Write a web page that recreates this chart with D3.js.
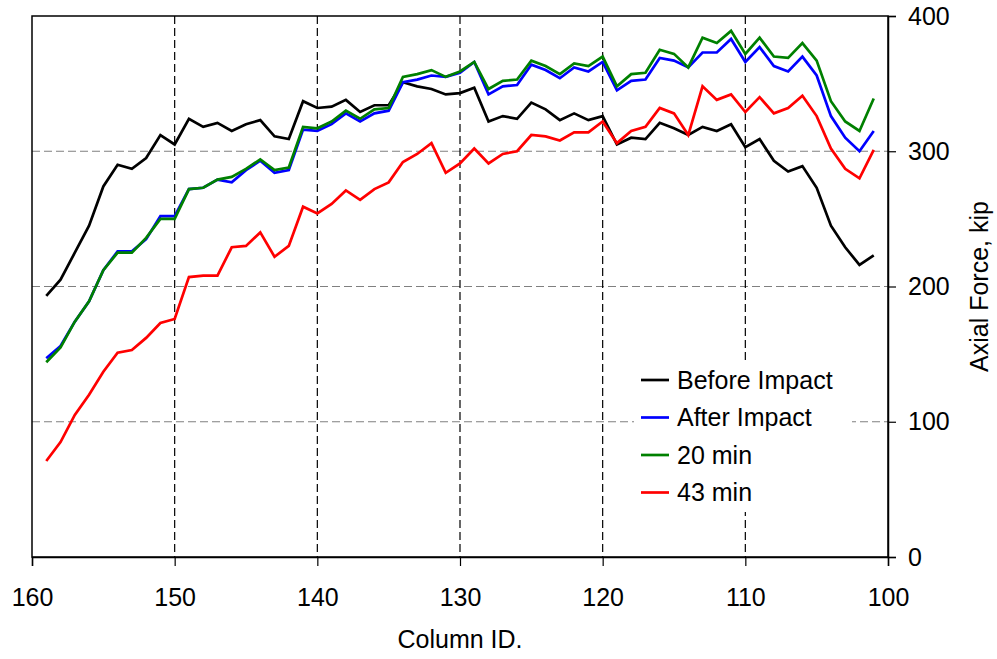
<!DOCTYPE html>
<html><head><meta charset="utf-8">
<script src="https://cdn.jsdelivr.net/npm/d3@7"></script>
<style>body{margin:0;background:#fff}svg{display:block;font-family:"Liberation Sans",Arial,sans-serif}</style>
</head><body><svg id="c" width="997" height="659"></svg>
<script>
const columnIds = [159,158,157,156,155,154,153,152,151,150,149,148,147,146,145,144,143,142,141,140,139,138,137,136,135,134,133,132,131,130,129,128,127,126,125,124,123,122,121,120,119,118,117,116,115,114,113,112,111,110,109,108,107,106,105,104,103,102,101];
const beforeImpact = [193,205,225,245,274,290,287,295,312,305,324,318,321,315,320,323,311,309,337,332,333,338,329,334,334,351,348,346,342,343,347,322,326,324,336,331,323,328,323,326,305,310,309,321,317,312,318,315,320,303,309,293,285,289,273,245,229,216,223];
const afterImpact = [147,156,174,189,212,226,226,235,252,252,272,273,279,277,286,293,284,286,316,315,320,328,322,328,330,351,353,356,355,358,366,342,348,349,364,360,354,362,359,366,345,352,353,369,367,362,373,373,383,366,377,363,359,370,356,326,310,300,315];
const min20 = [144,155,174,189,212,225,225,236,250,250,272,273,279,281,287,294,286,288,318,317,322,330,324,331,332,355,357,360,355,359,366,346,352,353,367,363,357,365,363,370,348,357,358,375,372,362,384,380,389,372,384,370,369,380,367,337,322,315,339];
const min43 = [71,85,105,120,137,151,153,162,173,176,207,208,208,229,230,240,222,230,259,254,261,271,264,272,277,292,298,306,284,291,302,291,298,300,312,311,308,314,314,322,306,315,318,332,328,312,348,338,342,329,340,328,332,341,326,302,287,280,301];
const seriesNames = ["Before Impact","After Impact","20 min","43 min"];
const seriesColors = ["#000000","#0000ff","#008000","#ff0000"];
const xTicks = [160,150,140,130,120,110,100];
const yTicks = [0,100,200,300,400];

const svg = d3.select("#c");
const L=32,R=888,T=16,B=557;
const x = d3.scaleLinear().domain([160,100]).range([L,R]);
const y = d3.scaleLinear().domain([0,400]).range([B,T]);
const fs = 25;

// grid
svg.append("g").selectAll("line").data(yTicks.filter(v=>v>0&&v<400)).join("line")
  .attr("x1",L).attr("x2",R).attr("y1",d=>y(d)).attr("y2",d=>y(d))
  .attr("stroke","#808080").attr("stroke-width",1.2).attr("stroke-dasharray","8,4");
svg.append("g").selectAll("line").data(xTicks.filter(v=>v<160&&v>100)).join("line")
  .attr("y1",T).attr("y2",B).attr("x1",d=>x(d)).attr("x2",d=>x(d))
  .attr("stroke","#000").attr("stroke-width",1.2).attr("stroke-dasharray","8,4");

// frame
svg.append("rect").attr("x",L).attr("y",T).attr("width",R-L).attr("height",B-T)
  .attr("fill","none").attr("stroke","#000").attr("stroke-width",1.5);

// axes
const xa = svg.append("g").attr("transform",`translate(0,${B})`)
  .call(d3.axisBottom(x).tickValues(xTicks).tickSize(9).tickPadding(22).tickFormat(d3.format("d")));
const ya = svg.append("g").attr("transform",`translate(${R},0)`)
  .call(d3.axisRight(y).tickValues(yTicks).tickSize(8).tickPadding(12).tickFormat(d3.format("d")));
[xa,ya].forEach(g=>{
  g.select(".domain").attr("stroke","#000").attr("stroke-width",1.5);
  g.selectAll(".tick line").attr("stroke","#000").attr("stroke-width",1.2);
  g.selectAll("text").attr("font-size",fs).attr("fill","#000").attr("font-family","Liberation Sans, Arial, sans-serif");
});

// lines
const allSeries = [beforeImpact, afterImpact, min20, min43];
const line = d3.line().x((d,i)=>x(columnIds[i])).y(d=>y(d));
allSeries.forEach((s,k)=>{
  svg.append("path").datum(s).attr("d",line).attr("fill","none")
    .attr("stroke",seriesColors[k]).attr("stroke-width",2.7).attr("stroke-linejoin","miter");
});

// axis titles
svg.append("text").attr("x",(L+R)/2).attr("y",648).attr("text-anchor","middle")
  .attr("font-size",fs).text("Column ID.");
svg.append("text").attr("transform",`translate(988,${(T+B)/2}) rotate(-90)`).attr("text-anchor","middle")
  .attr("font-size",fs).text("Axial Force, kip");

// legend
const lg = svg.append("g");
lg.append("rect").attr("x",634).attr("y",360).attr("width",218).attr("height",152).attr("fill","#fff");
seriesNames.forEach((n,k)=>{
  const yy = 380 + k*37.5;
  lg.append("line").attr("x1",641).attr("x2",669).attr("y1",yy).attr("y2",yy)
    .attr("stroke",seriesColors[k]).attr("stroke-width",2.7);
  lg.append("text").attr("x",677).attr("y",yy).attr("dy","0.35em").attr("font-size",fs).text(n);
});
</script></body></html>
